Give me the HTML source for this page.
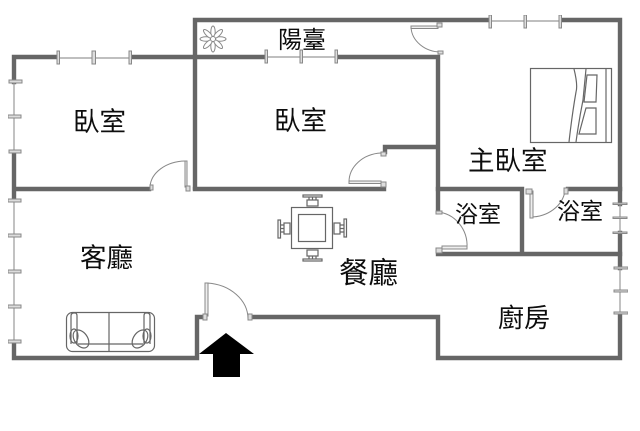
<!DOCTYPE html>
<html><head><meta charset="utf-8">
<style>
html,body{margin:0;padding:0;background:#fff;width:640px;height:431px;overflow:hidden}
svg{display:block}
text{font-family:"Liberation Sans","Noto Sans CJK TC",sans-serif;fill:#111}
.w{stroke:#666;stroke-width:4.4;fill:none;stroke-linecap:square;stroke-linejoin:miter}
.g{stroke:#999;stroke-width:1.2;fill:none}
.t{stroke:#888;stroke-width:1;fill:#ddd}
.d{stroke:#888;stroke-width:1;fill:none}
.f{stroke:#666;stroke-width:1.2;fill:none}
</style></head><body>
<svg width="640" height="431" viewBox="0 0 640 431" xmlns="http://www.w3.org/2000/svg">
<defs><filter id="b" x="0" y="0" width="100%" height="100%"><feGaussianBlur stdDeviation="0.35"/></filter></defs>
<g filter="url(#b)">
<!-- walls -->
<path class="w" d="M56 57H14V82M14 153V198M14 343V358H197V317H201"/>
<path class="w" d="M131 57H195M195 20V188M195 20H489M563 20H620V204M620 233V268M620 314V358H438V317H253"/>
<path class="w" d="M15 189H149M195 189H384"/>
<path class="w" d="M195 57H264M338 57H438V210M385 152V147H438"/>
<path class="w" d="M438 189H522V254M438 254H620M568 189H620"/>
<!-- windows -->
<path class="g" d="M57 58H130M265 57H337M490 21H561"/>
<path class="g" d="M14 82V152M14 200V342M620 204V232M620 268V313" stroke-width="1.5"/>
<g class="t">
<rect x="57" y="51" width="2.5" height="13"/><rect x="92" y="51" width="3.5" height="13"/><rect x="129" y="51" width="2.5" height="13"/>
<rect x="265" y="50" width="2.5" height="13"/><rect x="300" y="50" width="2.5" height="13"/><rect x="335" y="50" width="2.5" height="13"/>
<rect x="489" y="15" width="2.5" height="13"/><rect x="524" y="15" width="2.5" height="13"/><rect x="559" y="15" width="2.5" height="13"/>
<rect x="9" y="80" width="13" height="3"/><rect x="8" y="115" width="13" height="3"/><rect x="9" y="150" width="12" height="3"/>
<rect x="8" y="199" width="13" height="3"/><rect x="8" y="234" width="13" height="3"/><rect x="8" y="270" width="13" height="3"/><rect x="8" y="305" width="13" height="3"/><rect x="8" y="340" width="13" height="3"/>
<rect x="613" y="203" width="14" height="1.5"/><rect x="613" y="217" width="14" height="1.5"/><rect x="613" y="232" width="14" height="1.5"/>
<rect x="614" y="267" width="14" height="2"/><rect x="614" y="290" width="14" height="2"/><rect x="614" y="312" width="14" height="2"/>
</g>
<!-- doors -->
<g class="d">
<path d="M150 187A36 27 0 0 1 185 161"/><path d="M185 161H187V187H185Z" fill="#eee"/><rect x="150" y="185" width="3" height="5" fill="#ddd"/><rect x="186" y="186" width="4" height="5" fill="#ddd"/>
<path d="M349 182A34 29 0 0 1 381 153"/><rect x="349" y="181" width="32" height="2.5" fill="#eee"/><rect x="381" y="182" width="5" height="5" fill="#ddd"/><rect x="381" y="152" width="5" height="4" fill="#ddd"/>
<path d="M411 27A30 26 0 0 0 441 52"/><rect x="411" y="26" width="27" height="2.5" fill="#eee"/><rect x="437" y="23" width="5" height="4" fill="#ddd"/><rect x="438" y="51" width="5" height="3" fill="#ddd"/>
<path d="M437 212A32 34 0 0 1 467 248"/><rect x="442" y="246" width="25" height="3" fill="#eee"/><rect x="436" y="211" width="6" height="3" fill="#ddd"/><rect x="436" y="248" width="6" height="5" fill="#ddd"/>
<path d="M530 217A35 30 0 0 0 565 191"/><rect x="530" y="191" width="3" height="27" fill="#eee"/><rect x="526" y="189" width="6" height="5" fill="#ddd"/><rect x="564" y="188" width="4" height="6" fill="#ddd"/>
<path d="M207 283A44 36 0 0 1 248 319"/><rect x="205" y="283" width="3" height="33" fill="#eee"/><rect x="203" y="314" width="4" height="6" fill="#ddd"/><rect x="248" y="314" width="4" height="6" fill="#ddd"/>
</g>
<!-- arrow -->
<path d="M199 354L226 333L254 354H240V377H213V354Z" fill="#000"/>
<!-- flower -->
<g stroke="#888" fill="#fff" stroke-width="1">
<ellipse cx="213" cy="32" rx="2.2" ry="6"/>
<ellipse cx="213" cy="46" rx="2.2" ry="6"/>
<ellipse cx="206" cy="39" rx="6" ry="2.2"/>
<ellipse cx="220" cy="39" rx="6" ry="2.2"/>
<ellipse cx="208" cy="34" rx="2.2" ry="6" transform="rotate(-45 208 34)"/>
<ellipse cx="218" cy="34" rx="2.2" ry="6" transform="rotate(45 218 34)"/>
<ellipse cx="208" cy="44" rx="2.2" ry="6" transform="rotate(45 208 44)"/>
<ellipse cx="218" cy="44" rx="2.2" ry="6" transform="rotate(-45 218 44)"/>
<circle cx="213" cy="39" r="2.5"/>
</g>
<!-- bed -->
<g stroke="#666" stroke-width="1.2" fill="none">
<rect x="530.5" y="68.5" width="81" height="74"/>
<path d="M574 69Q578 85 576 92Q572 115 569 142"/>
<path d="M586 69Q584 90 583 100Q579 120 576 142"/>
<path d="M587 75H597L596 102H584Z"/>
<path d="M586 108H596V134H579Z"/>
<path d="M606 69V142"/>
</g>
<!-- table -->
<g class="f">
<rect x="291.5" y="207.5" width="41" height="41"/>
<rect x="298.5" y="214.5" width="27" height="27"/>
<rect x="307" y="200" width="11" height="6"/><rect x="303" y="195" width="19" height="2"/><path d="M309 197V200M312.5 197V200M316 197V200"/>
<rect x="307" y="250" width="11" height="6"/><rect x="303" y="259" width="19" height="2"/><path d="M309 256V259M312.5 256V259M316 256V259"/>
<rect x="284" y="223" width="6" height="11"/><rect x="278" y="220" width="2.5" height="18"/><path d="M280 225H284M280 228.5H284M280 232H284"/>
<rect x="334" y="223" width="6" height="11"/><rect x="344" y="219" width="2.5" height="18"/><path d="M340 225H344M340 228.5H344M340 232H344"/>
</g>
<!-- sofa -->
<g stroke="#666" stroke-width="1.2" fill="none">
<rect x="66.5" y="312.5" width="88" height="39" rx="6"/>
<path d="M109 313V352M78 344H143"/>
<path d="M71 344V316Q71 313 74 313H75Q77 313 77 316V344"/>
<path d="M150 344V316Q150 313 147 313H146Q144 313 144 316V344"/>
<ellipse cx="81" cy="339" rx="6.5" ry="10" transform="rotate(-35 81 339)"/>
<ellipse cx="74" cy="336" rx="4" ry="7"/>
<ellipse cx="140" cy="339" rx="6.5" ry="10" transform="rotate(35 140 339)"/>
<ellipse cx="147" cy="336" rx="4" ry="7"/>
</g>
<!-- labels -->
<text x="73" y="131" font-size="26.5">臥室</text>
<text x="274" y="130" font-size="26.5">臥室</text>
<text x="278" y="48" font-size="24">陽臺</text>
<text x="468" y="170" font-size="26.500">主臥室</text>
<text x="80" y="267" font-size="26.500">客廳</text>
<text x="339" y="283" font-size="29.500">餐廳</text>
<text x="498" y="327" font-size="26">廚房</text>
<text x="455" y="222" font-size="23">浴室</text>
<text x="557" y="219" font-size="23">浴室</text>
</g>
</svg>
</body></html>
